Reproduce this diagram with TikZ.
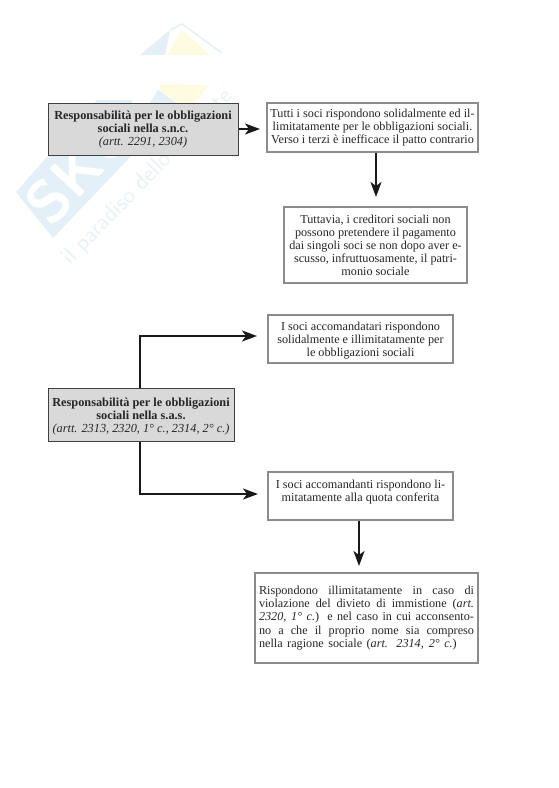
\documentclass[tikz,border=0pt]{standalone}
\usepackage{fontspec}
\setmainfont{Liberation Serif}
\usetikzlibrary{arrows.meta}
\definecolor{frame}{HTML}{8C8C8C}
\definecolor{wmblue}{HTML}{E3F0F8}
\definecolor{wmtext}{HTML}{E8F2F9}
\definecolor{wmyellow}{HTML}{FFFBE0}
\tikzset{
  x=1pt,y=-1pt,
  textbox/.style={draw=frame,line width=1.7pt,fill=white,inner sep=0pt,align=center,font=\fontsize{12.2}{13}\selectfont,text=black!85},
  headbox/.style={draw=black!75,line width=1pt,fill=black!15,inner sep=0pt,align=center,font=\fontsize{12.3}{13}\selectfont,text=black!85},
  link/.style={draw=black!90,line width=2pt,-{Stealth[length=15pt,width=11pt,inset=4pt]}},
}
\begin{document}
\begin{tikzpicture}
\useasboundingbox (0,0) rectangle (559,788);
% watermark
\fill[wmblue] (140,55) -- (170,30) -- (165,55) -- cycle;
\fill[wmyellow] (167,55) -- (182,30) -- (210,55) -- cycle;
\draw[wmblue,line width=1.5pt] (170,30) -- (182,24) -- (222,53);
\fill[wmyellow] (160,103) -- (160,84) -- (210,85) -- (195,103) -- cycle;
\fill[wmblue] (150,103) -- (158,90) -- (176,103) -- cycle;
\fill[wmblue] (16,192) -- (97,100) -- (132,100) -- (132,155) -- (53,238) -- cycle;
\node[rotate=47,text=white,font=\bfseries\fontsize{60}{60}\selectfont\sffamily] at (80,167) {SKU};
\node[rotate=46,text=wmtext,font=\fontsize{24}{24}\selectfont\sffamily,anchor=west] at (64,264) {il paradiso dello studente};
% boxes
\node[headbox,minimum width=190pt,minimum height=52pt] (a) at (143,129) {\rule{0pt}{10.4pt}\textbf{Responsabilità per le obbligazioni}\\\textbf{sociali nella s.n.c.}\\\textit{(artt. 2291, 2304)}};
\node[textbox,minimum width=211pt,minimum height=49pt] (b) at (372.5,127.5) {Tutti i soci rispondono solidalmente ed il-\\limitatamente per le obbligazioni sociali.\\Verso i terzi è inefficace il patto contrario};
\node[textbox,minimum width=183pt,minimum height=76pt] (c) at (375.5,245) {Tuttavia, i creditori sociali non\\possono pretendere il pagamento\\dai singoli soci se non dopo aver e-\\scusso, infruttuosamente, il patri-\\monio sociale};
\node[textbox,minimum width=185pt,minimum height=48pt] (d) at (360.5,339) {\rule{0pt}{11.2pt}I soci accomandatari rispondono\\solidalmente e illimitatamente per\\le obbligazioni sociali};
\node[headbox,minimum width=186pt,minimum height=53pt] (e) at (141,414.5) {\rule{0pt}{12.4pt}\textbf{Responsabilità per le obbligazioni}\\\textbf{sociali nella s.a.s.}\\\textit{(artt. 2313, 2320, 1° c., 2314, 2° c.)}};
\node[textbox,minimum width=185pt,minimum height=48pt,anchor=north] (f) at (360.5,471) {I soci accomandanti rispondono li-\\mitatamente alla quota conferita\rule[-10.6pt]{0pt}{1pt}};
\node[textbox,minimum width=223pt,minimum height=90pt] (g) at (366.5,618) {\parbox{215pt}{\fontsize{12.2}{13.3}\selectfont
\hbox to 215pt{Rispondono illimitatamente in caso di}
\hbox to 215pt{violazione del divieto di immistione (\textit{art.}}
\hbox to 215pt{\textit{2320, 1° c.}) e nel caso in cui acconsento-}
\hbox to 215pt{no a che il proprio nome sia compreso}
\hbox spread 12pt{nella ragione sociale (\textit{art. 2314, 2° c.})}}};
% connectors
\coordinate (abend) at (260,129);
\draw[link] (a.east |- abend) -- (abend);
\coordinate (bc) at (376,197);
\draw[link] (bc |- b.south) -- (bc);
\coordinate (ed) at (257,336);
\coordinate (ef) at (258,494);
\coordinate (eup) at (140,388);
\draw[link] (eup) -- (eup |- ed) -- (ed);
\draw[link] (eup |- e.south) -- (eup |- ef) -- (ef);
\coordinate (fg) at (359,566);
\draw[link] (fg |- f.south) -- (fg);
\end{tikzpicture}
\end{document}
